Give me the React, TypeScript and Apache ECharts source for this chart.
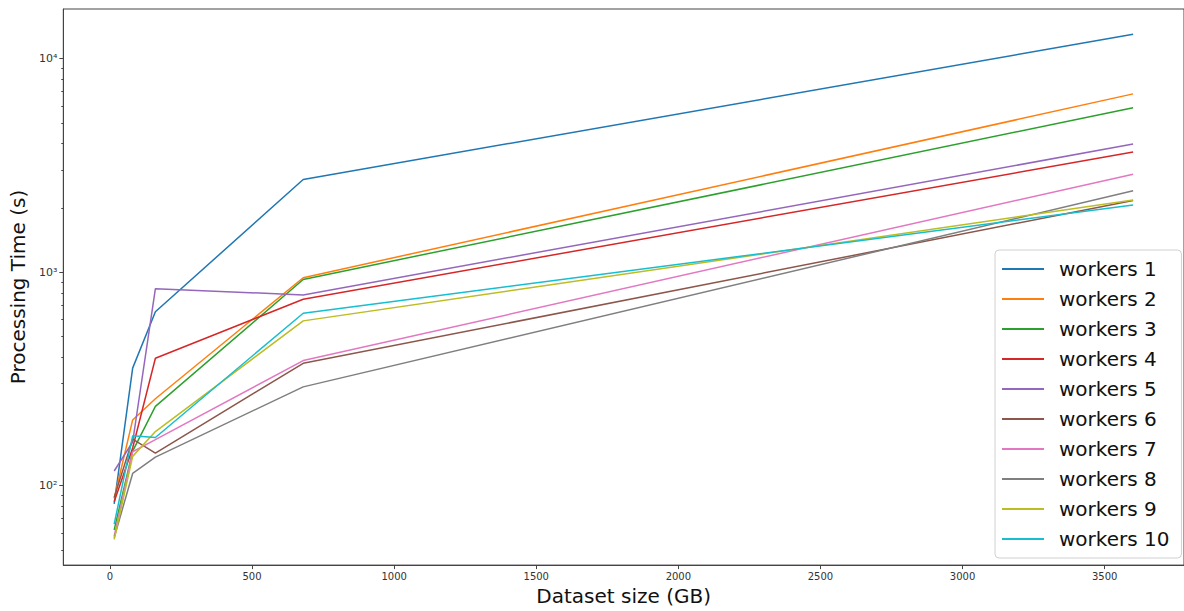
import React, { useEffect, useRef } from "react";
import * as echarts from "echarts";

const sizes = [15, 80, 160, 680, 3600];
const seriesNames = [
  "workers 1", "workers 2", "workers 3", "workers 4", "workers 5",
  "workers 6", "workers 7", "workers 8", "workers 9", "workers 10",
];
const w1 = [82, 355, 652, 2716, 13000];
const w2 = [87, 203, 255, 941, 6840];
const w3 = [62, 145, 235, 924, 5890];
const w4 = [84, 150, 395, 746, 3655];
const w5 = [117, 160, 836, 782, 3980];
const w6 = [88, 165, 142, 374, 2165];
const w7 = [58, 144, 164, 385, 2876];
const w8 = [57, 114, 136, 290, 2404];
const w9 = [56, 137, 179, 591, 2178];
const w10 = [66, 171, 168, 642, 2061];
const allValues = [w1, w2, w3, w4, w5, w6, w7, w8, w9, w10];
const colors = [
  "#1f77b4", "#ff7f0e", "#2ca02c", "#d62728", "#9467bd",
  "#8c564b", "#e377c2", "#7f7f7f", "#bcbd22", "#17becf",
];
const xTicks = [0, 500, 1000, 1500, 2000, 2500, 3000, 3500];
const yMajorTicks = [100, 1000, 10000];
const yMinorTicks = [50, 60, 70, 80, 90, 200, 300, 400, 500, 600, 700, 800, 900, 2000, 3000, 4000, 5000, 6000, 7000, 8000, 9000];
const sup: Record<string, string> = { "2": "²", "3": "³", "4": "⁴" };

export default function App() {
  const ref = useRef<HTMLDivElement>(null);
  useEffect(() => {
    if (!ref.current) return;
    const chart = echarts.init(ref.current, null, { renderer: "svg" });
    const font = "DejaVu Sans";
    const yMin = 42.4;
    const yMax = 17090;
    chart.setOption({
      animation: false,
      backgroundColor: "#ffffff",
      textStyle: { fontFamily: font },
      grid: {
        left: 63,
        top: 9,
        right: -7,
        bottom: 42,
        show: true,
        borderColor: "#444",
        borderWidth: 1,
        containLabel: false,
      },
      legend: {
        left: 995,
        top: 250,
        orient: "vertical",
        data: seriesNames,
        icon: "rect",
        itemWidth: 42,
        itemHeight: 2,
        itemGap: 10,
        padding: [9, 12, 9, 7],
        backgroundColor: "rgba(255,255,255,0.85)",
        borderColor: "#d0d0d0",
        borderWidth: 1,
        borderRadius: 4,
        textStyle: { fontFamily: font, fontSize: 20, color: "#111", padding: [0, 0, 0, 10] },
      },
      xAxis: {
        type: "value",
        min: -164,
        max: 3779,
        name: "Dataset size (GB)",
        nameLocation: "middle",
        nameGap: 20,
        nameTextStyle: { fontFamily: font, fontSize: 20, color: "#111" },
        axisLine: { show: true, onZero: false, lineStyle: { color: "#444" } },
        axisTick: { show: true, length: 4, lineStyle: { color: "#444" }, customValues: xTicks },
        axisLabel: {
          customValues: xTicks,
          fontFamily: font,
          fontSize: 10,
          color: "#333",
          margin: 6,
          formatter: (v: number) => String(v),
        },
        splitLine: { show: false },
      },
      yAxis: [
        {
          type: "log",
          logBase: 10,
          min: yMin,
          max: yMax,
          name: "Processing Time (s)",
          nameLocation: "middle",
          nameGap: 31,
          nameTextStyle: { fontFamily: font, fontSize: 20, color: "#111" },
          axisLine: { show: true, onZero: false, lineStyle: { color: "#444" } },
          axisTick: { show: true, length: 4, lineStyle: { color: "#444" }, customValues: yMajorTicks },
          axisLabel: {
            customValues: yMajorTicks,
            fontFamily: font,
            fontSize: 11,
            color: "#333",
            margin: 6,
            formatter: (v: number) => {
              const e = String(Math.round(Math.log10(v)));
              return "10" + e.split("").map((c) => sup[c] || c).join("");
            },
          },
          splitLine: { show: false },
        },
        {
          type: "log",
          logBase: 10,
          min: yMin,
          max: yMax,
          position: "left",
          axisLine: { show: false, onZero: false },
          axisTick: { show: true, length: 2, lineStyle: { color: "#444" }, customValues: yMinorTicks },
          axisLabel: { show: false },
          splitLine: { show: false },
        },
      ],
      series: allValues.map((vals, i) => ({
        name: seriesNames[i],
        type: "line",
        yAxisIndex: 0,
        data: sizes.map((s, j) => [s, vals[j]]),
        showSymbol: false,
        symbol: "none",
        lineStyle: { width: 1.5, color: colors[i] },
        itemStyle: { color: colors[i] },
      })),
    });
    return () => chart.dispose();
  }, []);
  return (
    <div
      ref={ref}
      style={{ position: "absolute", left: 0, top: 0, width: 1184, height: 611 }}
    />
  );
}
